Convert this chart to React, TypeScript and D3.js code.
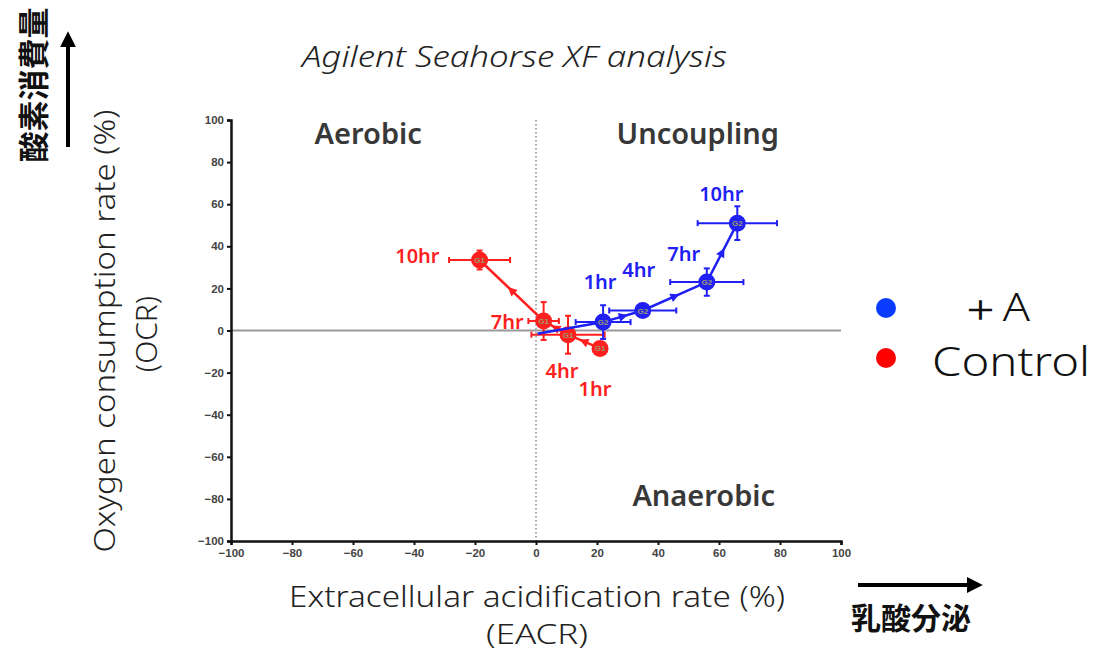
import React, { useEffect, useRef } from 'react';
import * as d3 from 'd3';

// time points
const hours = ['1hr', '4hr', '7hr', '10hr'];

// Control series (%)
const controlEcar = [21, 10.5, 2.5, -18.5];
const controlOcr = [-8.5, -2, 4.5, 33.5];
const controlEcarErr = [1, 12, 5, 10];
const controlOcrErr = [1, 9, 9, 4.5];

// +A series (%), path starts from baseline
const plusAStart = [0.5, -1.5];
const plusAEcar = [22, 35, 56, 66];
const plusAOcr = [4, 9.5, 23, 51];
const plusAEcarErr = [9, 11, 12, 13];
const plusAOcrErr = [8, 2, 6.5, 8];

const ticks = [-100, -80, -60, -40, -20, 0, 20, 40, 60, 80, 100];
const quadrants = [
    { name: 'Aerobic', x: -55, y: 88.4 },
    { name: 'Uncoupling', x: 53, y: 88.4 },
    { name: 'Anaerobic', x: 55, y: -83.6 },
];

// label offsets in px relative to each point
const controlLabelPos = [[-5, 41, 'middle'], [-6, 36, 'middle'], [-20, 1, 'end'], [-40, -4, 'end']];
const plusALabelPos = [[-3, -40, 'middle'], [-4, -41, 'middle'], [-23, -28, 'middle'], [-16, -29, 'middle']];

const RED = '#ff1f1f';
const BLUE = '#2020f5';

const App = () => {
    const ref = useRef(null);

    useEffect(() => {
        const svg = d3.select(ref.current);
        svg.selectAll('*').remove();

        const x = d3.scaleLinear().domain([-100, 100]).range([231, 841]);
        const y = d3.scaleLinear().domain([-100, 100]).range([541, 120]);
        const font = "'Noto Sans', 'Open Sans', sans-serif";

        const defs = svg.append('defs');
        defs.append('marker')
            .attr('id', 'bigArrow')
            .attr('viewBox', '0 0 10 10')
            .attr('refX', 2).attr('refY', 5)
            .attr('markerWidth', 4).attr('markerHeight', 4)
            .attr('markerUnits', 'strokeWidth')
            .attr('orient', 'auto')
            .append('path').attr('d', 'M0,0 L10,5 L0,10 Z').attr('fill', '#000');

        // title
        svg.append('text')
            .attr('x', 302).attr('y', 67)
            .attr('textLength', 425).attr('lengthAdjust', 'spacingAndGlyphs')
            .style('font', `italic 300 30px ${font}`)
            .attr('fill', '#222')
            .text('Agilent Seahorse XF analysis');

        // reference lines
        svg.append('line')
            .attr('x1', x(0)).attr('x2', x(0)).attr('y1', y(100)).attr('y2', y(-100))
            .attr('stroke', '#888').attr('stroke-width', 1.5).attr('stroke-dasharray', '1.5,2.5');
        svg.append('line')
            .attr('x1', x(-100)).attr('x2', x(100)).attr('y1', y(0)).attr('y2', y(0))
            .attr('stroke', '#9a9a9a').attr('stroke-width', 2);

        // axes
        const yAxis = svg.append('g')
            .attr('transform', `translate(${x(-100)},0)`)
            .call(d3.axisLeft(y).tickValues(ticks).tickSize(4).tickPadding(3));
        const xAxis = svg.append('g')
            .attr('transform', `translate(0,${y(-100)})`)
            .call(d3.axisBottom(x).tickValues(ticks).tickSize(4).tickPadding(4));
        [xAxis, yAxis].forEach(a => {
            a.select('.domain').attr('stroke', '#111').attr('stroke-width', 2.5);
            a.selectAll('.tick line').attr('stroke', '#111').attr('stroke-width', 2);
            a.selectAll('.tick text')
                .style('font', "bold 11.5px 'Liberation Sans', Arial, sans-serif")
                .attr('fill', '#444');
        });

        // quadrant names
        svg.selectAll('.quad')
            .data(quadrants)
            .enter()
            .append('text')
            .attr('x', d => x(d.x)).attr('y', d => y(d.y))
            .attr('text-anchor', 'middle')
            .style('font', `600 29px ${font}`)
            .attr('fill', '#383838')
            .text(d => d.name);

        const drawSeries = (ecar, ocr, ecarErr, ocrErr, color, tag, labelPos, start) => {
            const pts = ecar.map((v, i) => ({ x: v, y: ocr[i], ex: ecarErr[i], ey: ocrErr[i], h: hours[i], lp: labelPos[i] }));
            const path = start ? [{ x: start[0], y: start[1] }, ...pts] : pts;
            const g = svg.append('g');

            g.append('path')
                .datum(path)
                .attr('d', d3.line().x(d => x(d.x)).y(d => y(d.y)))
                .attr('fill', 'none')
                .attr('stroke', color)
                .attr('stroke-width', 2.5);

            // direction arrows at segment midpoints
            const segs = d3.pairs(pts);
            g.selectAll('.dir')
                .data(segs)
                .enter()
                .append('path')
                .attr('d', 'M5,0 L-4,-4.5 L-4,4.5 Z')
                .attr('fill', color)
                .attr('transform', d => {
                    const x0 = x(d[0].x), y0 = y(d[0].y), x1 = x(d[1].x), y1 = y(d[1].y);
                    const ang = Math.atan2(y1 - y0, x1 - x0) * 180 / Math.PI;
                    return `translate(${(x0 + x1) / 2},${(y0 + y1) / 2}) rotate(${ang})`;
                });

            // error bars
            const eb = g.selectAll('.err').data(pts).enter().append('g');
            eb.append('line')
                .attr('x1', d => x(d.x - d.ex)).attr('x2', d => x(d.x + d.ex))
                .attr('y1', d => y(d.y)).attr('y2', d => y(d.y))
                .attr('stroke', color).attr('stroke-width', 2);
            eb.append('line')
                .attr('x1', d => x(d.x)).attr('x2', d => x(d.x))
                .attr('y1', d => y(d.y - d.ey)).attr('y2', d => y(d.y + d.ey))
                .attr('stroke', color).attr('stroke-width', 2);
            [-1, 1].forEach(s => {
                eb.append('line')
                    .attr('x1', d => x(d.x + s * d.ex)).attr('x2', d => x(d.x + s * d.ex))
                    .attr('y1', d => y(d.y) - 3).attr('y2', d => y(d.y) + 3)
                    .attr('stroke', color).attr('stroke-width', 2);
                eb.append('line')
                    .attr('x1', d => x(d.x) - 3).attr('x2', d => x(d.x) + 3)
                    .attr('y1', d => y(d.y + s * d.ey)).attr('y2', d => y(d.y + s * d.ey))
                    .attr('stroke', color).attr('stroke-width', 2);
            });

            // markers
            g.selectAll('.pt')
                .data(pts)
                .enter()
                .append('circle')
                .attr('cx', d => x(d.x)).attr('cy', d => y(d.y))
                .attr('r', 8.5)
                .attr('fill', color);
            g.selectAll('.ptlabel')
                .data(pts)
                .enter()
                .append('text')
                .attr('x', d => x(d.x)).attr('y', d => y(d.y) + 3)
                .attr('text-anchor', 'middle')
                .style('font', "bold 8px 'Liberation Sans', Arial, sans-serif")
                .attr('fill', '#9a9a6a')
                .text(tag);

            // hour labels
            g.selectAll('.hr')
                .data(pts)
                .enter()
                .append('text')
                .attr('x', d => x(d.x) + d.lp[0])
                .attr('y', d => y(d.y) + d.lp[1] + 7)
                .attr('text-anchor', d => d.lp[2])
                .style('font', `600 20px ${font}`)
                .attr('fill', color)
                .text(d => d.h);
        };

        drawSeries(controlEcar, controlOcr, controlEcarErr, controlOcrErr, RED, 'G1', controlLabelPos, null);
        drawSeries(plusAEcar, plusAOcr, plusAEcarErr, plusAOcrErr, BLUE, 'G2', plusALabelPos, plusAStart);

        // axis titles
        const titleFont = `300 30px ${font}`;
        svg.append('text')
            .attr('transform', 'translate(115,331) rotate(-90)')
            .attr('text-anchor', 'middle')
            .attr('textLength', 443).attr('lengthAdjust', 'spacingAndGlyphs')
            .style('font', titleFont)
            .attr('fill', '#222')
            .text('Oxygen consumption rate (%)');
        svg.append('text')
            .attr('transform', 'translate(157,334) rotate(-90)')
            .attr('text-anchor', 'middle')
            .style('font', titleFont)
            .attr('fill', '#222')
            .text('(OCR)');
        svg.append('text')
            .attr('x', 537).attr('y', 607)
            .attr('text-anchor', 'middle')
            .attr('textLength', 496).attr('lengthAdjust', 'spacingAndGlyphs')
            .style('font', `300 30px ${font}`)
            .attr('fill', '#222')
            .text('Extracellular acidification rate (%)');
        svg.append('text')
            .attr('x', 537).attr('y', 644)
            .attr('text-anchor', 'middle')
            .attr('textLength', 102).attr('lengthAdjust', 'spacingAndGlyphs')
            .style('font', `300 27px ${font}`)
            .attr('fill', '#222')
            .text('(EACR)');

        // legend
        const legend = [
            { name: '＋A', color: '#0a3cff', y: 308, base: 321, size: 38, tx: 958, len: 72 },
            { name: 'Control', color: '#ff0000', y: 358, base: 376, size: 41, tx: 932, len: 158 },
        ];
        const lg = svg.selectAll('.legend').data(legend).enter().append('g');
        lg.append('circle')
            .attr('cx', 886).attr('cy', d => d.y).attr('r', 10)
            .attr('fill', d => d.color);
        lg.append('text')
            .attr('x', d => d.tx)
            .attr('y', d => d.base)
            .attr('textLength', d => d.len).attr('lengthAdjust', 'spacingAndGlyphs')
            .style('font', d => `300 ${d.size}px ${font}`)
            .attr('fill', '#111')
            .text(d => d.name);

        // Japanese direction hints
        const cjk = "'Noto Sans CJK JP', sans-serif";
        svg.append('text')
            .attr('transform', 'translate(45,85) rotate(-90)')
            .attr('text-anchor', 'middle')
            .style('font', `bold 31px ${cjk}`)
            .attr('fill', '#111')
            .text('酸素消費量');
        svg.append('line')
            .attr('x1', 68).attr('x2', 68).attr('y1', 147).attr('y2', 44)
            .attr('stroke', '#000').attr('stroke-width', 4)
            .attr('marker-end', 'url(#bigArrow)');
        svg.append('line')
            .attr('x1', 858).attr('x2', 970).attr('y1', 585).attr('y2', 585)
            .attr('stroke', '#000').attr('stroke-width', 4)
            .attr('marker-end', 'url(#bigArrow)');
        svg.append('text')
            .attr('x', 911).attr('y', 629)
            .attr('text-anchor', 'middle')
            .style('font', `bold 30px ${cjk}`)
            .attr('fill', '#111')
            .text('乳酸分泌');
    }, []);

    return (
        <svg ref={ref} width={1094} height={654}
            style={{ position: 'absolute', left: 0, top: 0, background: '#fff' }} />
    );
};

export default App;
